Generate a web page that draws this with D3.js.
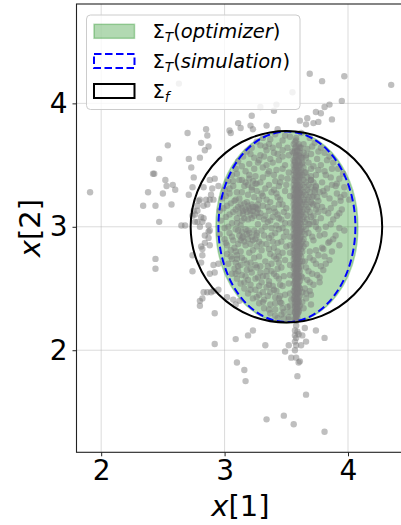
<!DOCTYPE html>
<html>
<head>
<meta charset="utf-8">
<script src="https://cdn.jsdelivr.net/npm/d3@7"></script>
<style>
  body { margin: 0; background: #fff; }
  svg { display: block; }
  text { font-family: "DejaVu Sans", sans-serif; fill: #000; }
</style>
</head>
<body>
<svg id="chart" width="401" height="525"></svg>
<script>
// ---- axis extents and ticks ----
const xDomain = [1.80, 4.44];
const yDomain = [1.173, 4.805];
const xTicks = [2, 3, 4];
const yTicks = [2, 3, 4];

// ---- covariance regions: optimizer, simulation, final ----
const regionKeys = ["optimizer", "simulation", "final"];
const regionCx = [3.505, 3.505, 3.501];
const regionCy = [3.0, 3.0, 3.0];
const regionRx = [0.575, 0.555, 0.776];
const regionRy = [0.777, 0.772, 0.776];

// ---- sampled states (x[1], x[2]) ----
// sparse samples around the regions
const sparseSamples = [
  [3.69,4.24],[3.79,4.18],[3.97,4.22],[4.35,4.15],[2.63,4.16],[3.55,4.09],[3.42,3.99],[3.29,3.97],
  [3.40,3.94],[3.95,4.02],[3.85,3.99],[3.81,3.97],[3.74,3.93],[3.78,3.92],[3.87,3.87],[3.67,3.88],
  [3.61,3.86],[3.76,3.85],[3.66,3.83],[3.72,3.84],[3.22,3.90],[3.11,3.84],[3.13,3.80],[3.21,3.82],
  [3.23,3.79],[3.34,3.82],[3.43,3.79],[2.85,3.79],[2.86,3.74],[2.70,3.76],[2.81,3.68],[3.04,3.78],
  [3.05,3.76],[2.54,3.66],[2.87,3.65],[2.47,3.55],[2.71,3.55],[2.80,3.56],[2.84,3.62],[2.73,3.48],
  [2.42,3.43],[2.43,3.43],[2.52,3.38],[2.75,3.40],[2.88,3.38],[2.53,3.33],[2.58,3.34],[2.50,3.27],
  [2.60,3.30],[2.74,3.32],[2.83,3.32],[2.90,3.31],[2.95,3.33],[2.38,3.28],[2.71,3.26],[2.89,3.26],
  [2.34,3.17],[2.44,3.17],[2.57,3.18],[2.79,3.21],[2.80,3.22],[2.85,3.22],[2.88,3.22],[2.91,3.22],
  [2.78,3.17],[2.83,3.17],[2.86,3.18],[2.75,3.13],[2.78,3.13],[2.74,3.09],[2.76,3.10],[2.81,3.08],
  [2.83,3.07],[2.82,3.04],[2.47,3.04],[2.65,3.01],[2.68,3.01],[2.76,3.04],[2.78,3.04],[2.80,3.00],
  [2.87,2.96],[2.88,2.97],[2.87,3.01],[2.92,3.39],[1.91,3.28],
  [2.44,2.74],[2.44,2.66],[2.74,2.64],[2.81,2.71],[2.82,2.77],[2.82,2.82],[2.74,2.77],[2.91,2.69],
  [2.95,2.70],[2.88,2.62],[2.92,2.63],[2.83,2.47],[2.86,2.47],[2.89,2.47],[2.91,2.48],[2.95,2.49],
  [2.82,2.42],[2.80,2.40],[2.80,2.36],[2.92,2.30],[3.02,2.43],[3.07,2.41],[3.12,2.40],[3.09,2.37],
  [2.84,2.87],[2.81,2.84],[2.88,2.85],[2.84,2.93],[2.87,2.91],
  [2.92,2.05],[3.09,2.09],[3.19,2.12],[3.23,2.16],[3.33,2.04],[3.10,1.90],[3.16,1.84],[3.17,1.75],
  [3.34,1.44],[3.48,1.47],[3.56,1.40],[3.81,1.34],[3.66,1.64],[3.59,1.79],[3.60,1.90],[3.61,1.91],
  [3.58,1.94],[3.54,1.94],[3.49,1.99],[3.52,2.04],[3.57,2.00],[3.58,2.04],[3.62,2.04],[3.66,2.07],
  [3.63,2.12],[3.65,2.18],[3.74,2.16],[3.81,2.10],[3.57,2.16],[3.57,2.12],[3.58,2.10],[3.59,2.15],
  [3.60,2.13],[3.57,2.07],[3.58,2.20],[3.58,2.24],[3.48,2.26],[3.52,2.27],
  [3.94,3.21],[3.90,3.33],[3.85,2.88],[3.80,2.82],[3.82,2.70],[3.77,2.55],[3.69,2.48],[3.70,2.37]
];

// scattered samples inside the optimizer region
const interiorSamples = [
  [3.41,3.75],[3.53,3.73],[3.62,3.76],[3.31,3.72],[3.47,3.70],[3.57,3.69],[3.69,3.72],[3.36,3.67],
  [3.26,3.69],[3.44,3.66],[3.51,3.64],[3.64,3.67],[3.73,3.68],[3.22,3.64],[3.34,3.62],[3.40,3.60],
  [3.55,3.61],[3.67,3.63],[3.78,3.64],[3.18,3.61],[3.29,3.58],[3.47,3.57],[3.70,3.59],[3.81,3.60],
  [3.24,3.56],[3.37,3.55],[3.63,3.56],[3.75,3.55],[3.85,3.57],[3.15,3.57],[3.43,3.59],[3.33,3.65],
  [3.11,3.53],[3.20,3.51],[3.28,3.54],[3.39,3.52],[3.49,3.50],[3.68,3.52],[3.78,3.50],[3.88,3.52],
  [3.09,3.47],[3.17,3.45],[3.31,3.48],[3.42,3.46],[3.52,3.44],[3.70,3.47],[3.81,3.45],[3.92,3.47],
  [3.06,3.42],[3.25,3.41],[3.35,3.43],[3.46,3.40],[3.74,3.42],[3.86,3.40],[3.96,3.43],[3.03,3.37],
  [3.12,3.38],[3.29,3.36],[3.41,3.37],[3.50,3.34],[3.79,3.36],[3.91,3.35],[3.07,3.33],[3.33,3.31],
  [3.44,3.33],[3.83,3.31],[3.97,3.32],[3.00,3.30],[3.26,3.29],[3.38,3.28],[3.77,3.28],
  [3.04,3.27],[3.19,3.26],[3.31,3.25],[3.42,3.27],[3.53,3.25],[3.81,3.26],[3.94,3.24],[2.98,3.23],
  [3.08,3.21],[3.28,3.22],[3.37,3.20],[3.45,3.22],[3.76,3.21],[3.89,3.19],[4.01,3.22],[3.02,3.17],
  [3.11,3.16],[3.31,3.17],[3.40,3.15],[3.79,3.16],[3.95,3.14],[2.96,3.13],[3.07,3.12],[3.29,3.11],
  [3.36,3.13],[3.43,3.10],[3.84,3.11],[3.01,3.08],[3.10,3.07],[3.32,3.06],[3.39,3.08],[3.78,3.07],
  [3.91,3.09],[2.97,3.05],
  [3.06,3.03],[3.27,3.02],[3.35,3.04],[3.42,3.01],[3.53,3.03],[3.86,3.02],[3.00,2.99],[3.09,2.98],
  [3.30,2.97],[3.38,2.99],[3.76,2.98],[3.97,2.97],[2.96,2.94],[3.04,2.95],[3.32,2.93],[3.41,2.95],
  [3.53,2.92],[3.81,2.94],[3.00,2.90],[3.07,2.89],[3.28,2.88],[3.36,2.91],[3.43,2.87],[3.72,2.89],
  [3.88,2.90],[3.02,2.85],[3.26,2.84],[3.34,2.86],[3.40,2.83],[3.53,2.85],[3.79,2.83],[3.93,2.85],
  [3.05,2.81],[3.13,2.80],[3.30,2.81],
  [3.02,2.78],[3.10,2.77],[3.20,2.79],[3.37,2.78],[3.44,2.76],[3.53,2.79],[3.76,2.77],[3.06,2.74],
  [3.16,2.73],[3.24,2.75],[3.33,2.72],[3.42,2.74],[3.69,2.75],[3.85,2.73],[3.03,2.70],[3.13,2.69],
  [3.21,2.71],[3.29,2.68],[3.38,2.70],[3.53,2.69],[3.74,2.70],[3.08,2.66],[3.18,2.65],[3.26,2.67],
  [3.34,2.64],[3.43,2.66],[3.66,2.67],[3.80,2.65],[3.06,2.62],[3.14,2.61],[3.22,2.63],[3.31,2.60],
  [3.40,2.62],[3.53,2.61],[3.71,2.62],[3.10,2.58],[3.19,2.57],[3.27,2.59],[3.36,2.56],[3.44,2.58],
  [3.67,2.57],[3.77,2.59],
  [3.13,2.54],[3.21,2.53],[3.30,2.55],[3.39,2.52],[3.52,2.54],[3.72,2.53],[3.16,2.50],[3.25,2.49],
  [3.34,2.51],[3.42,2.48],[3.65,2.50],[3.19,2.46],[3.28,2.45],[3.37,2.47],[3.45,2.44],[3.53,2.46],
  [3.63,2.47],[3.70,2.45],[3.23,2.42],[3.32,2.41],[3.41,2.43],[3.54,2.41],[3.66,2.42],[3.28,2.38],
  [3.37,2.37],[3.45,2.39],[3.53,2.36],[3.32,2.34],[3.41,2.33],[3.51,2.35],[3.64,2.34],[3.37,2.30],
  [3.46,2.29],[3.53,2.31],[3.43,2.26],[3.52,2.25],
  [3.37,3.71],[3.49,3.74],[3.58,3.72],[3.29,3.66],[3.39,3.64],[3.47,3.62],[3.61,3.64],[3.71,3.65],
  [3.21,3.59],[3.32,3.57],[3.52,3.58],[3.66,3.58],[3.76,3.61],[3.27,3.52],[3.34,3.50],[3.44,3.54],
  [3.63,3.51],[3.72,3.49],[3.83,3.54],[3.14,3.49],[3.24,3.47],[3.36,3.45],[3.47,3.47],[3.66,3.44],
  [3.76,3.46],[3.87,3.47],[3.10,3.43],[3.20,3.42],[3.31,3.40],[3.40,3.42],[3.51,3.39],[3.70,3.41],
  [3.82,3.42],[3.93,3.39],[3.07,3.37],[3.26,3.35],[3.36,3.34],[3.45,3.36],[3.74,3.33],[3.87,3.34],
  [3.04,3.31],[3.14,3.28],[3.22,3.30],[3.30,3.27],[3.40,3.30],[3.49,3.29],[3.80,3.29],[3.91,3.27],
  [3.01,3.25],[3.12,3.23],[3.24,3.24],[3.34,3.22],[3.43,3.24],[3.72,3.25],[3.85,3.23],[3.97,3.26],
  [3.05,3.19],[3.27,3.18],[3.35,3.16],[3.44,3.18],[3.75,3.17],[3.86,3.15],[2.99,3.15],[3.09,3.14],
  [3.26,3.15],[3.33,3.09],[3.41,3.12],[3.81,3.13],[3.93,3.11],[3.04,3.10],[3.28,3.08],[3.37,3.05],
  [3.44,3.07],[3.74,3.04],[3.88,3.06],
  [3.70,3.38],[3.73,3.30],[3.75,3.24],[3.71,3.19],[3.76,3.12],[3.72,3.09],[3.69,3.02],[3.74,3.00],
  [3.68,2.95],[3.71,2.92],[3.66,2.86],[3.69,2.80],
  [3.03,3.00],[3.13,3.01],[3.33,3.00],[3.44,2.98],[3.82,3.00],[3.93,2.99],[3.06,2.92],[3.26,2.95],
  [3.38,2.93],[3.77,2.93],[3.90,2.93],[3.01,2.87],[3.30,2.86],[3.39,2.88],[3.84,2.87],[3.08,2.83],
  [3.23,2.81],[3.36,2.82],[3.43,2.80],[3.74,2.81],[3.87,2.80],[3.05,2.76],[3.14,2.75],[3.28,2.76],
  [3.40,2.76],[3.72,2.73],[3.81,2.76],[3.09,2.71],[3.18,2.70],[3.25,2.69],[3.35,2.68],[3.44,2.71],
  [3.65,2.72],[3.78,2.68],[3.11,2.64],[3.21,2.66],[3.29,2.63],[3.38,2.64],[3.68,2.64],[3.75,2.61],
  [3.17,2.60],[3.25,2.58],[3.34,2.60],[3.42,2.60],[3.63,2.59],[3.16,2.55],[3.28,2.52],[3.36,2.53],
  [3.45,2.53],[3.69,2.55],[3.21,2.49],[3.31,2.47],[3.40,2.49],[3.66,2.46],[3.26,2.43],[3.35,2.44],
  [3.44,2.42],[3.31,2.39],[3.41,2.38],[3.63,2.39],[3.36,2.33],[3.47,2.34],[3.41,2.28]
];

// tight groups left of centre
const leftGroups = [
  [3.13,3.18],[3.16,3.19],[3.19,3.17],[3.22,3.18],[3.25,3.16],[3.14,3.15],[3.17,3.14],[3.20,3.15],
  [3.23,3.13],[3.27,3.14],[3.12,3.11],[3.15,3.10],[3.18,3.12],[3.21,3.10],[3.24,3.09],[3.16,3.07],
  [3.19,3.06],[3.22,3.07],[3.14,3.05],[3.26,3.11],[3.18,3.20],[3.21,3.13],[3.15,3.13],[3.23,3.16],
  [3.11,2.97],[3.14,2.96],[3.17,2.98],[3.20,2.95],[3.24,2.97],[3.12,2.93],[3.15,2.92],[3.18,2.94],
  [3.22,2.92],[3.26,2.93],[3.13,2.89],[3.16,2.88],[3.19,2.90],[3.23,2.89],[3.11,2.86],[3.17,2.85],
  [3.21,2.86],[3.14,2.91],[3.19,2.97],[3.25,2.90],
  [3.14,3.38],[3.17,3.36],[3.20,3.39],[3.23,3.37],[3.16,3.33],[3.19,3.34],[3.22,3.32],[3.25,3.35],
  [3.10,3.28],[3.09,3.22],[3.10,3.03],[3.09,2.80],[3.10,2.74],[3.11,2.68],[3.09,2.62],
  [3.47,3.18],[3.50,3.15],[3.48,3.12],[3.51,3.09],[3.46,3.06],[3.49,3.03],[3.47,2.99],[3.50,2.96],
  [3.48,2.92],[3.46,2.88],[3.50,2.84],[3.47,2.79],[3.49,2.73],[3.46,2.67],[3.48,2.60],[3.47,2.52],
  [3.49,2.45],[3.46,2.38],[3.48,2.31]
];

// dense vertical band of samples, row by row: [x[2], x[1] values]
const bandRows = [
  [3.70,[3.58]],[3.67,[3.60,3.56]],[3.64,[3.57,3.62]],[3.62,[3.59]],[3.60,[3.56,3.61,3.64]],
  [3.58,[3.58,3.60]],[3.56,[3.57,3.62,3.66]],[3.54,[3.59,3.56]],[3.52,[3.60,3.63,3.57]],
  [3.50,[3.58,3.61,3.56]],[3.48,[3.57,3.60,3.64]],[3.46,[3.59,3.56,3.62]],[3.44,[3.58,3.61,3.65]],
  [3.42,[3.56,3.60,3.63]],[3.40,[3.57,3.59,3.62,3.67]],[3.38,[3.56,3.60,3.64,3.70]],
  [3.36,[3.58,3.61,3.66,3.72]],[3.34,[3.56,3.59,3.63,3.68]],[3.32,[3.57,3.60,3.65,3.70,3.74]],
  [3.30,[3.56,3.59,3.62,3.67]],[3.28,[3.58,3.61,3.64,3.69,3.73]],[3.26,[3.56,3.60,3.63,3.66]],
  [3.24,[3.57,3.59,3.62,3.68,3.71]],[3.22,[3.56,3.60,3.64,3.67]],[3.20,[3.58,3.61,3.65,3.70]],
  [3.18,[3.56,3.59,3.63,3.66,3.72]],[3.16,[3.57,3.60,3.62,3.68]],[3.14,[3.56,3.59,3.64,3.67,3.74]],
  [3.12,[3.58,3.61,3.63,3.69]],[3.10,[3.56,3.60,3.62,3.66]],[3.08,[3.57,3.59,3.64,3.70]],
  [3.06,[3.56,3.61,3.63,3.67]],[3.04,[3.58,3.60,3.65,3.72]],[3.02,[3.56,3.59,3.62,3.68]],
  [3.00,[3.57,3.60,3.64]],[2.98,[3.56,3.59,3.62,3.66]],[2.96,[3.58,3.61,3.63]],
  [2.94,[3.56,3.60,3.65]],[2.92,[3.57,3.59,3.62]],[2.90,[3.56,3.61,3.64]],[2.88,[3.58,3.60,3.63]],
  [2.86,[3.56,3.59,3.62]],[2.84,[3.57,3.61,3.64]],[2.82,[3.56,3.60,3.62]],[2.80,[3.58,3.59,3.63]],
  [2.78,[3.56,3.61]],[2.76,[3.57,3.60,3.62]],[2.74,[3.56,3.59]],[2.72,[3.58,3.61,3.63]],
  [2.70,[3.56,3.60]],[2.68,[3.57,3.59,3.62]],[2.66,[3.56,3.60]],[2.64,[3.58,3.61]],
  [2.62,[3.57,3.59]],[2.60,[3.56,3.60,3.62]],[2.58,[3.58,3.59]],[2.56,[3.57,3.61]],
  [2.54,[3.56,3.59]],[2.52,[3.58,3.60]],[2.50,[3.57,3.59,3.61]],[2.48,[3.56,3.60]],
  [2.46,[3.58,3.59]],[2.44,[3.57,3.61]],[2.42,[3.56,3.59]],[2.40,[3.58,3.60]],[2.38,[3.57,3.59]],
  [2.36,[3.58,3.61]],[2.34,[3.57,3.59]],[2.32,[3.58,3.60]],[2.30,[3.57,3.59]],[2.28,[3.58]],
  [2.26,[3.59,3.57]],[2.24,[3.58]]
];

// core of the band, interleaved with the rows above
const coreRows = [
  [3.65,[3.58,3.60]],[3.61,[3.57,3.59]],[3.57,[3.58,3.61]],[3.53,[3.57,3.60]],[3.49,[3.58,3.59]],
  [3.45,[3.57,3.60]],[3.41,[3.58,3.61]],[3.37,[3.57,3.59]],[3.33,[3.58,3.61]],[3.31,[3.57,3.60]],
  [3.29,[3.58,3.59]],[3.27,[3.57,3.61]],[3.25,[3.58,3.60]],[3.23,[3.57,3.59]],[3.21,[3.58,3.61]],
  [3.19,[3.57,3.60]],[3.17,[3.58,3.59]],[3.15,[3.57,3.61]],[3.13,[3.58,3.60]],[3.11,[3.57,3.59]],
  [3.09,[3.58,3.61]],[3.07,[3.57,3.60]],[3.05,[3.58,3.59]],[3.03,[3.57,3.61]],[3.01,[3.58,3.60]],
  [2.99,[3.57,3.59]],[2.97,[3.58,3.61]],[2.95,[3.57,3.60]],[2.93,[3.58,3.59]],[2.91,[3.57,3.61]],
  [2.89,[3.58,3.60]],[2.87,[3.57,3.59]],[2.85,[3.58,3.61]],[2.83,[3.57,3.60]],[2.81,[3.58,3.59]],
  [2.79,[3.57,3.60]],[2.77,[3.58,3.59]],[2.75,[3.57,3.60]],[2.73,[3.58,3.59]],[2.71,[3.57,3.60]],
  [2.69,[3.58,3.59]],[2.67,[3.57,3.60]],[2.65,[3.58,3.59]],[2.63,[3.57,3.60]],[2.61,[3.58,3.59]],
  [2.59,[3.57,3.60]],[2.57,[3.58,3.59]],[2.55,[3.57,3.60]],[2.53,[3.58,3.59]],[2.51,[3.57,3.60]],
  [2.49,[3.58,3.59]],[2.47,[3.57,3.60]],[2.45,[3.58,3.59]],[2.43,[3.57,3.60]],[2.41,[3.58,3.59]],
  [2.39,[3.57,3.60]],[2.37,[3.58,3.59]],[2.35,[3.57,3.60]],[2.33,[3.58,3.59]],[2.31,[3.57,3.60]],
  [2.29,[3.58,3.59]],[2.27,[3.58]],[2.25,[3.57]]
];

// ---- layout ----
const plot = { left: 76.5, top: 4, right: 402.3, bottom: 452.3 };

const svg = d3.select("#chart");
const x = d3.scaleLinear().domain(xDomain).range([plot.left, plot.right]);
const y = d3.scaleLinear().domain(yDomain).range([plot.bottom, plot.top]);

const clipId = "plotClip";
svg.append("defs").append("clipPath").attr("id", clipId)
  .append("rect").attr("x", plot.left).attr("y", plot.top)
  .attr("width", plot.right - plot.left).attr("height", plot.bottom - plot.top);

// grid
const grid = svg.append("g").attr("clip-path", `url(#${clipId})`);
grid.selectAll("line.gx").data(xTicks).join("line")
  .attr("x1", d => x(d)).attr("x2", d => x(d))
  .attr("y1", plot.top).attr("y2", plot.bottom)
  .attr("stroke", "#b0b0b0").attr("stroke-opacity", 0.45).attr("stroke-width", 1);
grid.selectAll("line.gy").data(yTicks).join("line")
  .attr("y1", d => y(d)).attr("y2", d => y(d))
  .attr("x1", plot.left).attr("x2", plot.right)
  .attr("stroke", "#b0b0b0").attr("stroke-opacity", 0.45).attr("stroke-width", 1);

const body = svg.append("g").attr("clip-path", `url(#${clipId})`);

function regionEllipse(g, i) {
  return g.append("ellipse")
    .attr("cx", x(regionCx[i])).attr("cy", y(regionCy[i]))
    .attr("rx", x(regionCx[i] + regionRx[i]) - x(regionCx[i]))
    .attr("ry", y(regionCy[i]) - y(regionCy[i] + regionRy[i]));
}

// optimizer region (filled)
regionEllipse(body, 0)
  .attr("fill", "green").attr("fill-opacity", 0.3)
  .attr("stroke", "green").attr("stroke-opacity", 0.3).attr("stroke-width", 1.5);

// samples
const samples = [];
sparseSamples.forEach(p => samples.push(p));
interiorSamples.forEach(p => samples.push(p));
leftGroups.forEach(p => samples.push(p));
bandRows.forEach(([yv, xs]) => xs.forEach(xv => samples.push([xv, yv])));
coreRows.forEach(([yv, xs]) => xs.forEach(xv => samples.push([xv, yv])));

body.append("g").selectAll("circle").data(samples).join("circle")
  .attr("cx", d => x(d[0])).attr("cy", d => y(d[1]))
  .attr("r", 3.2)
  .attr("fill", "#808080").attr("fill-opacity", 0.5);

// simulation region (dashed)
regionEllipse(body, 1)
  .attr("fill", "none").attr("stroke", "blue").attr("stroke-width", 2)
  .attr("stroke-dasharray", "7.5,3.5");

// final region
regionEllipse(body, 2)
  .attr("fill", "none").attr("stroke", "black").attr("stroke-width", 2);

// spines
svg.append("rect")
  .attr("x", plot.left).attr("y", plot.top)
  .attr("width", plot.right - plot.left).attr("height", plot.bottom - plot.top)
  .attr("fill", "none").attr("stroke", "#222").attr("stroke-width", 1.1);

// axes
const tickFont = 28;
const xAxis = svg.append("g").attr("transform", `translate(0,${plot.bottom})`)
  .call(d3.axisBottom(x).tickValues(xTicks).tickSize(4).tickPadding(4).tickFormat(d3.format("d")));
xAxis.select(".domain").remove();
xAxis.selectAll("line").attr("stroke", "#222");
xAxis.selectAll("text").attr("font-size", tickFont).attr("font-family", "DejaVu Sans").attr("fill", "#000");

const yAxis = svg.append("g").attr("transform", `translate(${plot.left},0)`)
  .call(d3.axisLeft(y).tickValues(yTicks).tickSize(4).tickPadding(5).tickFormat(d3.format("d")));
yAxis.select(".domain").remove();
yAxis.selectAll("line").attr("stroke", "#222");
yAxis.selectAll("text").attr("font-size", tickFont).attr("font-family", "DejaVu Sans").attr("fill", "#000");

// axis titles
const labelFont = 29;
const xl = svg.append("text")
  .attr("x", (plot.left + plot.right) / 2 + 1).attr("y", 516)
  .attr("text-anchor", "middle").attr("font-size", labelFont);
xl.append("tspan").attr("font-style", "italic").text("x");
xl.append("tspan").text("[1]");

const yl = svg.append("text")
  .attr("transform", `translate(40,${(plot.top + plot.bottom) / 2}) rotate(-90)`)
  .attr("text-anchor", "middle").attr("font-size", labelFont);
yl.append("tspan").attr("font-style", "italic").text("x");
yl.append("tspan").text("[2]");

// legend
const legend = svg.append("g");
legend.append("rect")
  .attr("x", 86.5).attr("y", 15).attr("width", 213.5).attr("height", 94.5)
  .attr("rx", 4).attr("fill", "#fff").attr("fill-opacity", 0.8)
  .attr("stroke", "#cccccc").attr("stroke-width", 1);

const legendFont = 19.5;
const rowY = [31.3, 61, 91];
const handles = [
  g => g.attr("fill", "green").attr("fill-opacity", 0.3).attr("stroke", "green").attr("stroke-opacity", 0.3).attr("stroke-width", 1.5),
  g => g.attr("fill", "none").attr("stroke", "blue").attr("stroke-width", 2).attr("stroke-dasharray", "7.5,3.5"),
  g => g.attr("fill", "none").attr("stroke", "black").attr("stroke-width", 2)
];
const subs = ["T", "T", "f"];
const words = ["optimizer", "simulation", null];

regionKeys.forEach((k, i) => {
  legend.append("rect")
    .attr("x", 94).attr("y", rowY[i] - 7).attr("width", 40.5).attr("height", 14)
    .call(handles[i]);
  const t = legend.append("text")
    .attr("x", 152.5).attr("y", rowY[i] + 7)
    .attr("font-size", legendFont);
  t.append("tspan").text("Σ");
  t.append("tspan").attr("font-style", "italic").attr("font-size", legendFont * 0.7)
    .attr("dy", 4).text(subs[i]);
  if (words[i]) {
    t.append("tspan").attr("dy", -4).text("(");
    t.append("tspan").attr("font-style", "italic").text(words[i]);
    t.append("tspan").text(")");
  }
});
</script>
</body>
</html>
